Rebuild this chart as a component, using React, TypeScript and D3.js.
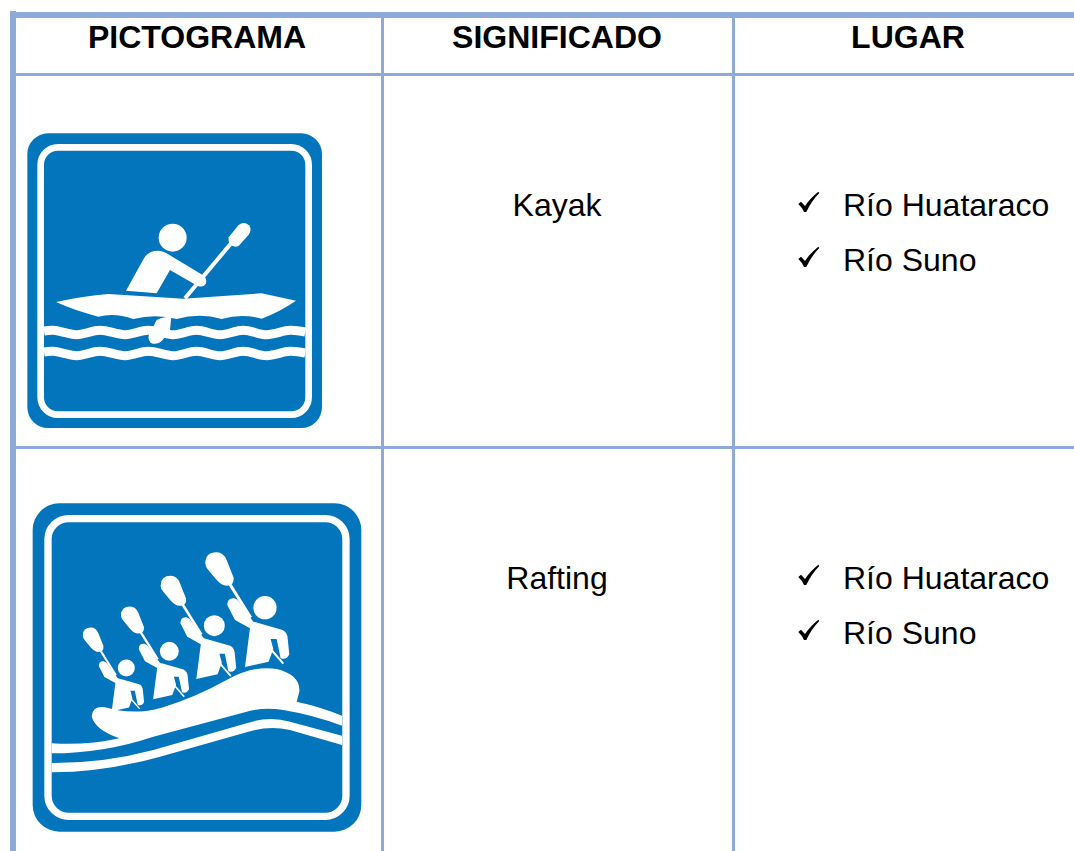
import * as d3 from "d3";

const headers = ["PICTOGRAMA", "SIGNIFICADO", "LUGAR"];
const meanings = ["Kayak", "Rafting"];
const places = ["Río Huataraco", "Río Suno"];

// wave points of the kayak sign: [x, y] in icon units
const kayakWave: [number, number][] = [
  [132, 633], [160, 631], [230, 644], [300, 631], [375, 644], [445, 631], [520, 644],
  [590, 631], [660, 644], [730, 631], [800, 644], [870, 631], [916, 636],
];

const BORDER = "#8eaadb";
const SIGN = "#0375bc";
const WIDTH = 1074;
const HEIGHT = 851;

const colCenter = d3.scaleOrdinal<string, number>().domain(headers).range([197, 557, 908]);
const rowBaseline = d3.scaleOrdinal<string, number>().domain(meanings).range([216, 589]);
const placeOffset = d3.scaleOrdinal<string, number>().domain(places).range([0, 55]);
const waveLine = d3.line().curve(d3.curveCatmullRom.alpha(0.5));

function KayakSign() {
  return (
    <g transform="translate(0,120) scale(0.3333)">
      <rect x={82} y={40} width={884} height={884} rx={62} fill={SIGN} />
      <rect x={122} y={82} width={804} height={802} rx={52} fill="none" stroke="#fff" strokeWidth={20} />
      <circle cx={518} cy={353} r={42} fill="#fff" />
      <path
        fill="#fff"
        d="M378,512 L432,415 Q445,392 475,392 Q488,392 500,400 L608,465 Q622,475 618,490 Q610,505 592,497 L510,450 L470,520 Z"
      />
      <path d="M555,535 L700,362" stroke="#fff" strokeWidth={12} fill="none" />
      <path
        fill="#fff"
        d="M686,352 L716,315 Q732,302 747,316 Q757,330 746,344 L716,378 Q702,384 690,372 Q684,362 686,352 Z"
      />
      <path
        fill="#fff"
        d="M168,546 Q250,528 325,522 L550,536 L785,520 L888,542 Q840,575 785,596 Q725,580 665,597 Q600,578 530,597 Q465,580 400,597 Q345,578 295,590 Q220,570 168,546 Z"
      />
      <path d={waveLine(kayakWave) ?? ""} fill="none" stroke="#fff" strokeWidth={27} />
      <path
        d={waveLine(kayakWave) ?? ""}
        transform="translate(0,63)"
        fill="none"
        stroke="#fff"
        strokeWidth={27}
      />
      <path stroke={SIGN} strokeWidth={10} fill="none" d="M522,600 L512,630" />
      <path
        fill="#fff"
        d="M470,600 Q490,590 514,590 L510,630 L488,660 Q470,678 452,668 Q440,655 450,640 Z"
      />
    </g>
  );
}

// largest paddler, drawn around its head
function Paddler({ x, y, k }: { x: number; y: number; k: number }) {
  return (
    <g transform={`translate(${x},${y}) scale(${k}) translate(-735,-338)`} fill="#fff">
      <circle cx={735} cy={338} r={35} />
      <path d="M556,205 Q556,172 590,172 Q610,172 620,195 L641,248 Q643,272 620,272 Q605,272 590,255 L565,225 Q556,215 556,205 Z" />
      <path d="M626,262 L692,368" stroke="#fff" strokeWidth={9} />
      <path d="M622,330 Q622,308 642,310 Q652,312 660,325 L700,380 L788,405 Q802,412 803,430 L808,478 Q800,496 782,490 L770,432 L752,432 L760,462 L746,500 L675,516 L690,400 L645,375 Z" />
      <path d="M752,462 L790,506" stroke="#fff" strokeWidth={6} />
    </g>
  );
}

function RaftingSign() {
  return (
    <g transform="translate(20,495) scale(0.3333)">
      <rect x={38} y={25} width={986} height={985} rx={80} fill={SIGN} />
      <rect x={84} y={71} width={894} height={893} rx={62} fill="none" stroke="#fff" strokeWidth={22} />
      <Paddler x={735} y={338} k={1} />
      <Paddler x={583} y={392} k={0.9} />
      <Paddler x={448} y={469} k={0.81} />
      <Paddler x={319} y={519} k={0.73} />
      <path
        fill="#fff"
        d="M215,664 Q218,632 255,637 Q340,662 425,638 Q520,610 620,555 Q700,510 770,522 Q842,540 838,590 L830,620 Q900,635 966,662 L966,692 Q880,660 790,645 Q730,636 680,650 L400,725 Q250,775 95,775 L95,745 Q200,752 298,730 Q225,705 215,664 Z"
      />
      <path
        fill="#fff"
        d="M95,804 Q250,805 400,765 L680,685 Q745,662 810,680 L966,722 L966,750 L810,705 Q745,690 680,712 L420,785 Q250,832 95,832 Z"
      />
    </g>
  );
}

function Check({ y }: { y: number }) {
  return (
    <path
      transform={`translate(780,${y}) scale(0.3333)`}
      fill="#000"
      d="M55,72 L63,65 L75,78 Q90,55 115,35 L118,39 Q95,62 79,96 L72,96 Q66,82 55,72 Z"
    />
  );
}

export default function App() {
  const textStyle = { fontFamily: "'Liberation Sans', Arial, sans-serif", fontSize: 32 };

  return (
    <svg
      width={WIDTH}
      height={HEIGHT}
      style={{ position: "absolute", left: 0, top: 0, display: "block", background: "#fff" }}
    >
      <rect x={10} y={11} width={6} height={HEIGHT - 11} fill={BORDER} />
      <rect x={10} y={12} width={WIDTH - 10} height={6} fill={BORDER} />
      <rect x={14} y={73} width={WIDTH - 14} height={3} fill={BORDER} />
      <rect x={14} y={446} width={WIDTH - 14} height={3} fill={BORDER} />
      <rect x={381} y={16} width={3} height={HEIGHT - 16} fill={BORDER} />
      <rect x={732} y={16} width={3} height={HEIGHT - 16} fill={BORDER} />

      {headers.map((h) => (
        <text key={h} x={colCenter(h)} y={48} textAnchor="middle" fontWeight="bold" style={textStyle}>
          {h}
        </text>
      ))}

      <KayakSign />
      <RaftingSign />

      {meanings.map((m) => (
        <g key={m}>
          <text x={colCenter(headers[1])} y={rowBaseline(m)} textAnchor="middle" style={textStyle}>
            {m}
          </text>
          {places.map((p) => (
            <g key={p}>
              <Check y={rowBaseline(m) + placeOffset(p) - 36} />
              <text x={843} y={rowBaseline(m) + placeOffset(p)} style={textStyle}>
                {p}
              </text>
            </g>
          ))}
        </g>
      ))}
    </svg>
  );
}
